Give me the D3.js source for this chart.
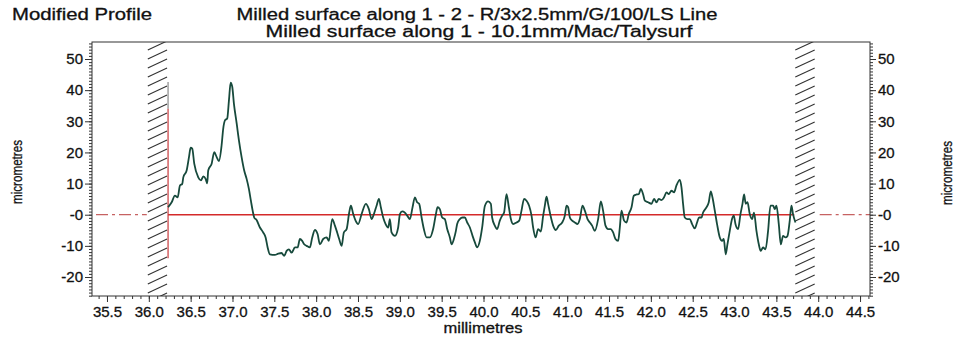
<!DOCTYPE html>
<html>
<head>
<meta charset="utf-8">
<script src="https://cdn.jsdelivr.net/npm/d3@7"></script>
<style>
  body { margin: 0; background: #fff; }
  svg { display: block; font-family: "Liberation Sans", Arial, sans-serif; }
</style>
</head>
<body>
<svg id="chart"></svg>
<script>
// profile trace, millimetres / micrometres
const profileMm = [36.23, 36.273, 36.312, 36.345, 36.372, 36.400, 36.412, 36.452, 36.480, 36.500,
  36.519, 36.543, 36.591, 36.623, 36.651, 36.679, 36.698, 36.710, 36.751, 36.782,
  36.811, 36.838, 36.870, 36.889, 36.910, 36.937, 36.958, 36.978, 36.997, 37.017,
  37.050, 37.077, 37.109, 37.140, 37.169, 37.196, 37.220, 37.241, 37.260, 37.288,
  37.328, 37.367, 37.396, 37.420, 37.447, 37.507, 37.547, 37.587, 37.618, 37.647,
  37.674, 37.707, 37.746, 37.778, 37.806, 37.833, 37.857, 37.886, 37.925, 37.953,
  37.985, 38.017, 38.045, 38.084, 38.125, 38.152, 38.192, 38.224, 38.251, 38.275,
  38.304, 38.331, 38.364, 38.395, 38.415, 38.443, 38.471, 38.502, 38.543, 38.594,
  38.630, 38.662, 38.690, 38.722, 38.750, 38.773, 38.801, 38.830, 38.861, 38.881,
  38.901, 38.941, 38.980, 39.001, 39.028, 39.060, 39.088, 39.120, 39.152, 39.180,
  39.207, 39.231, 39.260, 39.287, 39.320, 39.359, 39.398, 39.431, 39.451, 39.478,
  39.506, 39.538, 39.566, 39.598, 39.618, 39.646, 39.670, 39.685, 39.717, 39.750,
  39.777, 39.805, 39.837, 39.869, 39.897, 39.924, 39.956, 39.984, 40.016, 40.055,
  40.088, 40.103, 40.135, 40.163, 40.195, 40.223, 40.246, 40.275, 40.303, 40.327,
  40.354, 40.395, 40.426, 40.454, 40.485, 40.514, 40.545, 40.574, 40.593, 40.622,
  40.653, 40.685, 40.713, 40.733, 40.753, 40.772, 40.801, 40.832, 40.864, 40.900,
  40.940, 40.972, 40.992, 41.011, 41.032, 41.059, 41.091, 41.124, 41.151, 41.183,
  41.211, 41.243, 41.271, 41.298, 41.330, 41.370, 41.402, 41.429, 41.458, 41.489,
  41.521, 41.549, 41.577, 41.609, 41.629, 41.649, 41.680, 41.709, 41.736, 41.769,
  41.796, 41.828, 41.856, 41.880, 41.907, 41.928, 41.967, 42.008, 42.039, 42.067,
  42.095, 42.127, 42.158, 42.187, 42.214, 42.246, 42.278, 42.306, 42.346, 42.366,
  42.385, 42.405, 42.438, 42.465, 42.493, 42.525, 42.552, 42.576, 42.605, 42.624,
  42.665, 42.692, 42.716, 42.736, 42.764, 42.791, 42.824, 42.851, 42.871, 42.895,
  42.915, 42.943, 42.970, 42.991, 43.011, 43.042, 43.071, 43.095, 43.114, 43.134,
  43.155, 43.182, 43.210, 43.233, 43.262, 43.290, 43.313, 43.341, 43.370, 43.401,
  43.429, 43.461, 43.481, 43.501, 43.529, 43.553, 43.580, 43.609, 43.633, 43.660,
  43.680, 43.699, 43.728]
const profileUm = [2.4, 4, 6.1, 5.6, 9.4, 9.9, 12, 14.2, 18.5, 21.5,
  21.2, 16.4, 12, 11, 12.3, 11.5, 10.1, 14.2, 16.4, 20.1,
  18.5, 17.2, 22.3, 27.6, 30.3, 30.9, 36.8, 42.4, 41.1, 35.7,
  29.3, 23.9, 18.5, 14.2, 11.5, 8.3, 4.5, 1.3, -0.9, -1.7,
  -4.1, -5.7, -7.3, -10.5, -12.7, -12.9, -12.5, -12.3, -13.2, -11.6,
  -11.1, -12.2, -10.5, -10.5, -7.8, -8.4, -9.5, -10, -10.5, -7.3,
  -4.9, -6.2, -9.5, -7.8, -7.3, -8.4, -1.4, -3.5, -5.7, -7.8,
  -10, -5.7, -4.6, 0.7, 2.9, 0.2, -1.9, -3, 0.2, 3.5,
  1.8, -1.4, 0.2, 2.9, 5.1, 2.4, -0.9, -3, -4.1, -1.4,
  -5.7, -6.8, -4.1, 0.2, 1.1, 0.7, -0.3, -1.4, 2.4, 5.6,
  4, 3.5, -0.9, -4.6, -7.3, -7.3, -4.6, 0.2, 2.4, 1.8,
  -0.9, -1.4, -4.6, -7.3, -9.5, -7.8, -5.2, -3, -1.4, -0.9,
  -0.9, -2.5, -4.1, -6.8, -8.9, -10.5, -8.4, -4.1, 2.8, 4.3,
  3.5, -0.9, -3.5, -4.6, -1.9, -0.3, 0.7, 6.6, 2.4, -1.4,
  -3, -2.5, -1.9, 1.3, 5.1, 4.5, 2.9, -0.3, -4.1, -7.3,
  -4.6, -5.4, -0.3, 2.9, 5.8, 3.5, -0.3, -3.5, -4.9, -3.5,
  -2.5, -0.3, 2.9, 2.4, -0.9, -1.9, -2.5, -3, -1.4, 2.9,
  1.3, -1.4, -2.5, -3.5, -5.2, -1.4, 4.3, 1.3, -3.5, -4.6,
  -4.6, -5.7, -7.8, -8.4, -4.1, 1.3, -1.9, -2.5, 0.2, 2.4,
  6.1, 6.5, 6.6, 8.3, 6.6, 4.5, 4, 3.5, 5.1, 4,
  5.1, 4.7, 5.6, 7.2, 6.6, 7.7, 7.2, 9.4, 11.2, 8.8,
  3.5, -0.9, -1.4, -1.4, -3, -4.4, -2.5, -0.9, -0.9, 0.7,
  2.4, 4, 7.5, 5.6, 1.3, -3, -7.3, -8.4, -7.8, -12.7,
  -9.5, -5.2, -1.4, -0.3, -3, -4.6, 0.2, 3.5, 6.5, 3.5,
  4, 0.2, -1.4, 0.7, -5.2, -9.5, -11.6, -10.5, -11.1, -5.2,
  2.9, 2.9, 1.8, 2.9, -3, -9.5, -6.8, -7.3, -6.8, -1.9,
  2.9, 0.2, -2.5]

const xTickValues = [35.5, 36.0, 36.5, 37.0, 37.5, 38.0, 38.5, 39.0, 39.5, 40.0, 40.5, 41.0, 41.5, 42.0, 42.5, 43.0, 43.5, 44.0, 44.5]
const xTickLabels = ["35.5", "36.0", "36.5", "37.0", "37.5", "38.0", "38.5", "39.0", "39.5", "40.0", "40.5", "41.0", "41.5", "42.0", "42.5", "43.0", "43.5", "44.0", "44.5"]
const yTickValues = [-20, -10, 0, 10, 20, 30, 40, 50]
const yTickLabels = ["-20", "-10", "-0", "10", "20", "30", "40", "50"]

// excluded ends of the trace (hatched) and the start marker
const excludedLeft = [35.976, 36.23]
const excludedRight = [43.714, 43.97]
const startMarker = [36.23, 42.6, 34, -14]

const W = 956, H = 338
const pLeft = 92, pRight = 870, pTop = 42, pBottom = 296

const svg = d3.select("#chart").attr("width", W).attr("height", H)
svg.append("rect").attr("width", W).attr("height", H).attr("fill", "#fff")

const x = d3.scaleLinear().domain([35.321, 44.619]).range([pLeft, pRight])
const y = d3.scaleLinear().domain([-26.1, 55.46]).range([pBottom, pTop])

svg.append("defs").append("clipPath").attr("id", "plotClip")
  .append("rect").attr("x", pLeft).attr("y", pTop).attr("width", pRight - pLeft).attr("height", pBottom - pTop)

// hatched exclusion bands
function hatch(range) {
  const x0 = x(range[0]), x1 = x(range[1])
  const g = svg.append("g").attr("clip-path", "url(#plotClip)")
  const rows = d3.range(pTop - 10, pBottom + 12, 9)
  g.selectAll("line").data(rows).enter().append("line")
    .attr("x1", x0 + 1).attr("y1", d => d + 9)
    .attr("x2", x1 - 1).attr("y2", d => d)
    .attr("stroke", "#333").attr("stroke-width", 1.1)
}
hatch(excludedLeft)
hatch(excludedRight)

// zero reference lines
svg.append("line")
  .attr("x1", x(excludedLeft[1])).attr("x2", x(excludedRight[0]))
  .attr("y1", y(0)).attr("y2", y(0))
  .attr("stroke", "#d42a2a").attr("stroke-width", 1.4)
const dashed = [[x.domain()[0], excludedLeft[0]], [excludedRight[1], x.domain()[1]]]
svg.selectAll(".dashzero").data(dashed).enter().append("line")
  .attr("class", "dashzero")
  .attr("x1", d => x(d[0]) + 4).attr("x2", d => x(d[1]))
  .attr("y1", y(0)).attr("y2", y(0))
  .attr("stroke", "#b83a3a").attr("stroke-width", 1)
  .attr("stroke-dasharray", "12,4,3,4")

// start marker
svg.append("line")
  .attr("x1", x(startMarker[0])).attr("x2", x(startMarker[0]))
  .attr("y1", y(startMarker[1])).attr("y2", y(startMarker[2]))
  .attr("stroke", "#888").attr("stroke-width", 1.2)
svg.append("line")
  .attr("x1", x(startMarker[0])).attr("x2", x(startMarker[0]))
  .attr("y1", y(startMarker[2])).attr("y2", y(startMarker[3]))
  .attr("stroke", "#c8383a").attr("stroke-width", 1.2)

// profile
const line = d3.line().x((d, i) => x(profileMm[i])).y(d => y(d)).curve(d3.curveMonotoneX)
svg.append("path").datum(profileUm)
  .attr("d", line)
  .attr("fill", "none")
  .attr("stroke", "#174a3c")
  .attr("stroke-width", 1.8)
  .attr("stroke-linejoin", "round")

// frame
svg.append("rect")
  .attr("x", pLeft).attr("y", pTop).attr("width", pRight - pLeft).attr("height", pBottom - pTop)
  .attr("fill", "none").attr("stroke", "#333").attr("stroke-width", 1)

// axes
const fmtX = (d, i) => xTickLabels[i]
const fmtY = (d, i) => yTickLabels[i]
const minorX = d3.range(35.4, 44.62, 0.1)
const minorY = d3.range(-26, 56, 1)

function styleAxis(g) {
  g.select(".domain").remove()
  g.selectAll("line").attr("stroke", "#333")
  g.selectAll("text").attr("font-size", 15).attr("fill", "#111")
    .attr("stroke", "#111").attr("stroke-width", 0.3)
    .attr("font-family", "Liberation Sans, Arial, sans-serif")
}

svg.append("g").attr("transform", `translate(0,${pBottom})`)
  .call(d3.axisBottom(x).tickValues(minorX).tickFormat("").tickSize(3)).call(styleAxis)
svg.append("g").attr("transform", `translate(0,${pBottom})`)
  .call(d3.axisBottom(x).tickValues(xTickValues).tickFormat(fmtX).tickSize(6).tickPadding(4)).call(styleAxis)

svg.append("g").attr("transform", `translate(${pLeft},0)`)
  .call(d3.axisLeft(y).tickValues(minorY).tickFormat("").tickSize(3)).call(styleAxis)
svg.append("g").attr("transform", `translate(${pLeft},0)`)
  .call(d3.axisLeft(y).tickValues(yTickValues).tickFormat(fmtY).tickSize(7).tickPadding(2)).call(styleAxis)

svg.append("g").attr("transform", `translate(${pRight},0)`)
  .call(d3.axisRight(y).tickValues(minorY).tickFormat("").tickSize(3)).call(styleAxis)
svg.append("g").attr("transform", `translate(${pRight},0)`)
  .call(d3.axisRight(y).tickValues(yTickValues).tickFormat(fmtY).tickSize(6).tickPadding(2)).call(styleAxis)

// titles and axis labels
function label(t) {
  return t.attr("fill", "#111").attr("stroke", "#111").attr("stroke-width", 0.3)
    .attr("lengthAdjust", "spacingAndGlyphs")
}
svg.append("text").attr("x", 12).attr("y", 20)
  .attr("font-size", 16).attr("textLength", 140).call(label)
  .text("Modified Profile")
svg.append("text").attr("x", 477).attr("y", 20).attr("text-anchor", "middle")
  .attr("font-size", 16).attr("textLength", 481).call(label)
  .text("Milled surface along 1 - 2 - R/3x2.5mm/G/100/LS Line")
svg.append("text").attr("x", 479).attr("y", 37).attr("text-anchor", "middle")
  .attr("font-size", 16).attr("textLength", 427).call(label)
  .text("Milled surface along 1 - 10.1mm/Mac/Talysurf")
svg.append("text").attr("x", 483).attr("y", 333).attr("text-anchor", "middle")
  .attr("font-size", 14).attr("textLength", 79).call(label)
  .text("millimetres")
svg.append("text").attr("transform", "translate(22,172) rotate(-90)").attr("text-anchor", "middle")
  .attr("font-size", 15).attr("textLength", 64).call(label)
  .text("micrometres")
svg.append("text").attr("transform", "translate(952,173) rotate(-90)").attr("text-anchor", "middle")
  .attr("font-size", 15).attr("textLength", 64).call(label)
  .text("micrometres")
</script>
</body>
</html>
